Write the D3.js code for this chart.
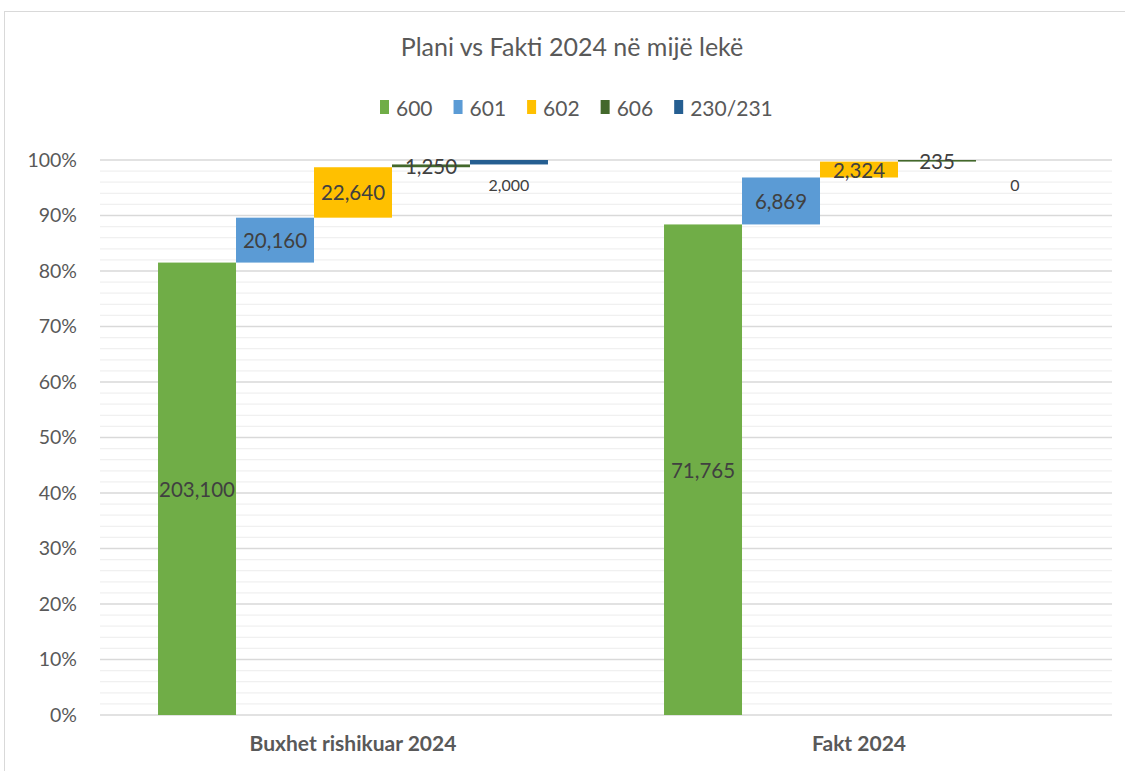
<!DOCTYPE html>
<html><head><meta charset="utf-8">
<script src="https://cdnjs.cloudflare.com/ajax/libs/d3/7.8.5/d3.min.js"></script>
<style>body{margin:0;background:#fff;} svg{display:block;font-family:Lato, "Open Sans", sans-serif;}</style>
</head><body>
<svg id="c" width="1125" height="771"></svg>
<script>
const categories = ["Buxhet rishikuar 2024", "Fakt 2024"];
const seriesNames = ["600", "601", "602", "606", "230/231"];
const seriesColors = ["#70AD47", "#5B9BD5", "#FFC000", "#43682B", "#255E91"];
const values600 = [203100, 71765];
const values601 = [20160, 6869];
const values602 = [22640, 2324];
const values606 = [1250, 235];
const values230 = [2000, 0];
const yTicks = [0, 0.1, 0.2, 0.3, 0.4, 0.5, 0.6, 0.7, 0.8, 0.9, 1.0];
const title = "Plani vs Fakti 2024 në mijë lekë";

const seriesValues = [values600, values601, values602, values606, values230];
const svg = d3.select("#c");
svg.append("rect").attr("x", 4.5).attr("y", 11.5).attr("width", 1125).attr("height", 770)
  .attr("fill", "#fff").attr("stroke", "#d9d9d9");

const m = {l: 100, r: 1112, t: 160, b: 715};
const x = d3.scaleBand().domain(categories).range([m.l, m.r]).padding(0);
const xs = d3.scaleBand().domain(seriesNames).range([0, x.bandwidth()]).paddingInner(0).paddingOuter(0.744);
const y = d3.scaleLinear().domain([0, 1]).range([m.b, m.t]);

// grid
const minor = d3.range(0, 1.0001, 0.02).filter(v => Math.round(v * 100) % 10 !== 0);
svg.append("g").selectAll("line").data(minor).join("line")
  .attr("x1", m.l).attr("x2", m.r).attr("y1", d => y(d)).attr("y2", d => y(d))
  .attr("stroke", "#f0f0f0").attr("stroke-width", 1.3);
svg.append("g").selectAll("line").data(yTicks).join("line")
  .attr("x1", m.l).attr("x2", m.r).attr("y1", d => y(d)).attr("y2", d => y(d))
  .attr("stroke", "#d9d9d9").attr("stroke-width", 1.5);

// y axis labels
const yAxis = d3.axisLeft(y).tickValues(yTicks).tickFormat(d3.format(".0%")).tickSize(0).tickPadding(23);
const ga = svg.append("g").attr("transform", `translate(${m.l},0)`).call(yAxis);
ga.select(".domain").remove();
ga.selectAll("text").attr("font-size", 19.5).attr("fill", "#595959").attr("font-family", "Lato, sans-serif");

// x axis labels
const xAxis = d3.axisBottom(x).tickSize(0).tickPadding(21);
const gx = svg.append("g").attr("transform", `translate(0,${m.b})`).call(xAxis);
gx.select(".domain").remove();
gx.selectAll("text").attr("font-size", 21).attr("font-weight", "bold").attr("fill", "#595959").attr("font-family", "Lato, sans-serif");

// bars
const fmt = d3.format(",");
categories.forEach((cat, ci) => {
  const total = d3.sum(seriesValues, s => s[ci]);
  let cum = 0;
  seriesNames.forEach((sn, si) => {
    const v = seriesValues[si][ci];
    const y0 = cum / total, y1 = (cum + v) / total;
    cum += v;
    const bx = x(cat) + xs(sn);
    if (v > 0) {
      svg.append("rect").attr("x", bx).attr("width", xs.bandwidth())
        .attr("y", y(y1)).attr("height", Math.max(0, y(y0) - y(y1)))
        .attr("fill", seriesColors[si]);
    }
    const small = si === 4;
    const ly = small ? y(1) + 24 : (y(y0) + y(y1)) / 2;
    svg.append("text").attr("x", bx + xs.bandwidth() / 2).attr("y", ly)
      .attr("text-anchor", "middle").attr("dominant-baseline", "central")
      .attr("font-size", small ? 16 : 20.5).attr("fill", "#404040")
      .text(fmt(v));
  });
});

// title
svg.append("text").attr("x", 572).attr("y", 56).attr("text-anchor", "middle")
  .attr("font-size", 25).attr("fill", "#595959").text(title);

// legend
const lg = svg.append("g");
let lx = 380;
seriesNames.forEach((sn, i) => {
  const g = lg.append("g").attr("transform", `translate(${lx},0)`);
  g.append("rect").attr("x", 0).attr("y", 100).attr("width", 9).attr("height", 14).attr("fill", seriesColors[i]);
  const t = g.append("text").attr("x", 16).attr("y", 107).attr("dominant-baseline", "central")
    .attr("font-size", 21).attr("fill", "#595959").text(sn);
  lx += 16 + t.node().getComputedTextLength() + 21;
});
</script>
</body></html>
